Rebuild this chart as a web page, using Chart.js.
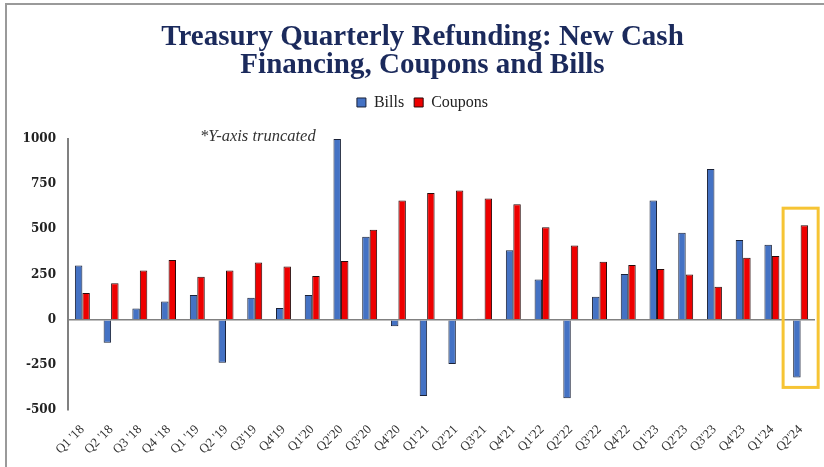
<!DOCTYPE html>
<html>
<head>
<meta charset="utf-8">
<script src="https://cdn.jsdelivr.net/npm/chart.js@4.4.1/dist/chart.umd.min.js"></script>
<style>
  html, body { margin: 0; padding: 0; background: #ffffff; }
  #wrap { width: 824px; height: 467px; position: relative; }
</style>
</head>
<body>
<div id="wrap"><canvas id="c" width="824" height="467"></canvas></div>
<script>
const categories = ["Q1 '18","Q2 '18","Q3 '18","Q4 '18","Q1 '19","Q2 '19","Q3'19","Q4'19","Q1'20","Q2'20","Q3'20","Q4'20","Q1'21","Q2'21","Q3'21","Q4'21","Q1'22","Q2'22","Q3'22","Q4'22","Q1'23","Q2'23","Q3'23","Q4'23","Q1'24","Q2'24"];
const bills   = [300, -128, 62, 101, 136, -239, 121, 64, 136, 1000, 459, -37, -423, -246, 5, 384, 222, -435, 127, 253, 660, 481, 834, 441, 415, -320];
const coupons = [147, 202, 272, 330, 237, 272, 316, 294, 241, 325, 498, 660, 701, 715, 670, 639, 512, 411, 321, 303, 281, 250, 182, 343, 353, 523];
const yTicks  = [-500, -250, 0, 250, 500, 750, 1000];
const titleLines = ["Treasury Quarterly Refunding: New Cash", "Financing, Coupons and Bills"];
const noteText = "*Y-axis truncated";
const highlightIndex = 25;
const highlightRange = [-375, 617];

const headerShift = {
  id: 'headerShift',
  afterLayout(chart) {
    const dx = 15;
    if (chart.titleBlock) { chart.titleBlock.left += dx; chart.titleBlock.right += dx; }
    if (chart.legend) { chart.legend.left += dx; chart.legend.right += dx; }
  }
};

const overlay = {
  id: 'overlay',
  afterDraw(chart) {
    const ctx = chart.ctx;
    const x = chart.scales.x, y = chart.scales.y;
    ctx.save();
    // frame lines
    ctx.strokeStyle = '#9a9a9a';
    ctx.lineWidth = 2;
    ctx.beginPath();
    ctx.moveTo(6, 467); ctx.lineTo(6, 4); ctx.lineTo(824, 4);
    ctx.stroke();
    // note
    ctx.fillStyle = '#333333';
    ctx.font = 'italic 16.5px "Liberation Serif"';
    ctx.textBaseline = 'middle';
    ctx.textAlign = 'left';
    ctx.fillText(noteText, 200, 137);
    // highlight box
    const step = x.getPixelForValue(1) - x.getPixelForValue(0);
    const cx = x.getPixelForValue(highlightIndex);
    const top = y.getPixelForValue(highlightRange[1]);
    const bot = y.getPixelForValue(highlightRange[0]);
    ctx.strokeStyle = '#F6C434';
    ctx.lineWidth = 3;
    ctx.strokeRect(cx - step * 0.61, top, step * 1.22, bot - top);
    ctx.restore();
  }
};

new Chart(document.getElementById('c'), {
  type: 'bar',
  data: {
    labels: categories,
    datasets: [
      { label: 'Bills', data: bills, backgroundColor: '#4472C4', borderColor: '#1a2238', borderWidth: 1, categoryPercentage: 0.52, barPercentage: 1.0 },
      { label: 'Coupons', data: coupons, backgroundColor: '#EE0000', borderColor: '#2a0a0a', borderWidth: 1, categoryPercentage: 0.52, barPercentage: 1.0 }
    ]
  },
  options: {
    responsive: false,
    animation: false,
    devicePixelRatio: 1,
    layout: { padding: { left: 0, right: 9, top: 0, bottom: 0 } },
    plugins: {
      title: {
        display: true,
        text: titleLines,
        color: '#1B2A5C',
        font: { family: '"Liberation Serif"', size: 29, weight: 'bold', lineHeight: 0.96 },
        padding: { top: 24, bottom: 4.8 }
      },
      subtitle: {
        display: true,
        text: ' ',
        weight: 500,
        font: { size: 1, lineHeight: 1 },
        padding: { top: 0, bottom: 17.5 }
      },
      legend: {
        display: true,
        labels: {
          color: '#222222',
          font: { family: '"Liberation Serif"', size: 16 },
          boxWidth: 9, boxHeight: 9, padding: 10
        }
      },
      tooltip: { enabled: false }
    },
    scales: {
      x: {
        grid: { display: false },
        border: { display: false },
        ticks: {
          color: '#333333',
          font: { family: '"Liberation Serif"', size: 13 },
          minRotation: 45, maxRotation: 45, padding: 4, autoSkip: false
        },
        afterFit(scale) { scale.height = 57; }
      },
      y: {
        min: -500, max: 1000,
        afterBuildTicks(scale) { scale.ticks = yTicks.map(v => ({ value: v })); },
        grid: {
          drawTicks: false,
          color: ctx => (ctx.tick && ctx.tick.value === 0) ? '#808080' : 'rgba(0,0,0,0)',
          lineWidth: 1.5
        },
        border: { display: true, color: '#808080', width: 2 },
        ticks: {
          color: '#222222',
          font: { family: '"DejaVu Serif"', size: 12, weight: 'bold' },
          padding: 12,
          callback: v => String(v)
        },
        afterFit(scale) { scale.width = 68; }
      }
    }
  },
  plugins: [headerShift, overlay]
});
</script>
</body>
</html>
